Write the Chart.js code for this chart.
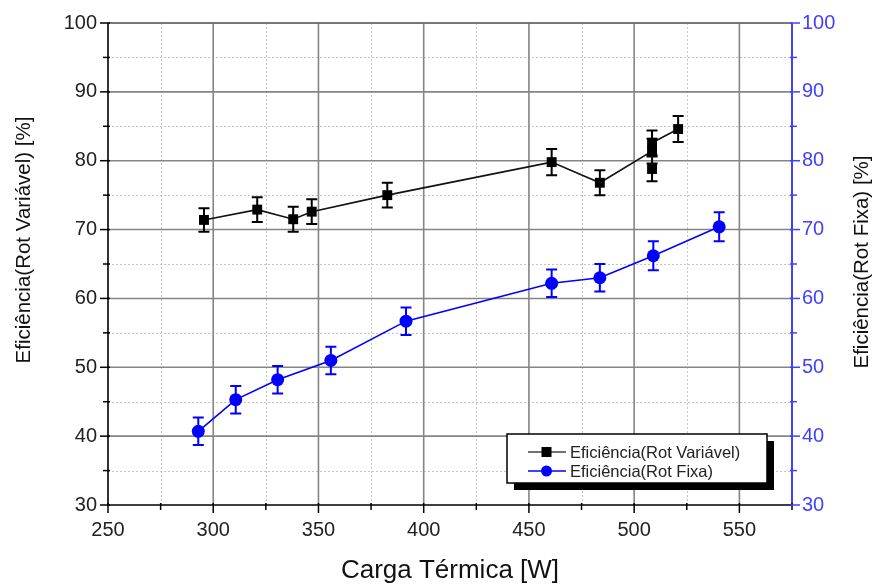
<!DOCTYPE html>
<html>
<head>
<meta charset="utf-8">
<script src="https://cdn.jsdelivr.net/npm/chart.js@4"></script>
<style>
  html, body { margin: 0; padding: 0; background: #fff; }
  #wrap { width: 879px; height: 585px; position: relative; }
</style>
</head>
<body>
<div id="wrap"><canvas id="chart"></canvas></div>
<script>
// ===== DATA =====
const labelVar  = "Eficiência(Rot Variável)"
const labelFixa = "Eficiência(Rot Fixa)"

const varX   = [295.6, 320.9, 338.0, 346.8, 382.7, 460.8, 483.7, 508.5, 508.5, 508.5, 520.9]
const varY   = [71.4, 72.9, 71.5, 72.6, 75.0, 79.8, 76.8, 81.4, 78.8, 82.6, 84.6]
const varErr = [1.7, 1.8, 1.8, 1.8, 1.8, 1.9, 1.8, 1.8, 1.8, 1.8, 1.9]

const fixaX   = [292.9, 310.7, 330.6, 355.9, 391.6, 460.8, 483.7, 509.1, 540.4]
const fixaY   = [40.7, 45.3, 48.2, 51.0, 56.7, 62.2, 63.0, 66.2, 70.4]
const fixaErr = [2.0, 2.0, 2.0, 2.0, 2.0, 2.0, 2.0, 2.1, 2.1]

const xTitle  = "Carga Térmica [W]"
const yTitle  = "Eficiência(Rot Variável) [%]"
const y2Title = "Eficiência(Rot Fixa) [%]"

const BLUE = "#0000ff"
const AXIS_BLUE = "#4040ff"
const FONT = "'Liberation Sans', Arial, sans-serif"

// ===== PLUGIN: grid, axes, error bars, legend, titles =====
const decor = {
  id: "decor",
  beforeDatasetsDraw(chart) {
    const { ctx, chartArea: a, scales: { x, y } } = chart
    ctx.save()
    // minor dotted grid
    ctx.strokeStyle = "#c4c4c4"
    ctx.lineWidth = 1
    ctx.setLineDash([2, 2])
    for (let v = 275; v < 575; v += 50) {
      const px = Math.round(x.getPixelForValue(v)) + 0.5
      ctx.beginPath(); ctx.moveTo(px, a.top); ctx.lineTo(px, a.bottom); ctx.stroke()
    }
    for (let v = 35; v < 100; v += 10) {
      const py = Math.round(y.getPixelForValue(v)) + 0.5
      ctx.beginPath(); ctx.moveTo(a.left, py); ctx.lineTo(a.right, py); ctx.stroke()
    }
    // major solid grid
    ctx.setLineDash([])
    ctx.strokeStyle = "#858585"
    ctx.lineWidth = 1.6
    for (let v = 300; v <= 550; v += 50) {
      const px = x.getPixelForValue(v)
      ctx.beginPath(); ctx.moveTo(px, a.top); ctx.lineTo(px, a.bottom); ctx.stroke()
    }
    for (let v = 40; v <= 100; v += 10) {
      const py = y.getPixelForValue(v)
      ctx.beginPath(); ctx.moveTo(a.left, py); ctx.lineTo(a.right, py); ctx.stroke()
    }
    ctx.restore()

    // error bars
    const drawErr = (xs, ys, es, color) => {
      ctx.save()
      ctx.strokeStyle = color
      ctx.lineWidth = 2
      xs.forEach((xv, i) => {
        const px = x.getPixelForValue(xv)
        const top = y.getPixelForValue(ys[i] + es[i])
        const bot = y.getPixelForValue(ys[i] - es[i])
        ctx.beginPath()
        ctx.moveTo(px, top); ctx.lineTo(px, bot)
        ctx.moveTo(px - 5.5, top); ctx.lineTo(px + 5.5, top)
        ctx.moveTo(px - 5.5, bot); ctx.lineTo(px + 5.5, bot)
        ctx.stroke()
      })
      ctx.restore()
    }
    drawErr(varX, varY, varErr, "#000")
    drawErr(fixaX, fixaY, fixaErr, BLUE)
  },
  afterDraw(chart) {
    const { ctx, chartArea: a, scales: { x, y } } = chart
    ctx.save()
    // axis lines
    ctx.lineWidth = 1.6
    ctx.strokeStyle = "#000"
    ctx.beginPath(); ctx.moveTo(a.left, a.top); ctx.lineTo(a.left, a.bottom); ctx.lineTo(a.right, a.bottom); ctx.stroke()
    ctx.strokeStyle = "#6a6a6a"
    ctx.beginPath(); ctx.moveTo(a.left, a.top); ctx.lineTo(a.right, a.top); ctx.stroke()
    ctx.strokeStyle = AXIS_BLUE
    ctx.lineWidth = 2
    ctx.beginPath(); ctx.moveTo(a.right, a.top); ctx.lineTo(a.right, a.bottom + 1); ctx.stroke()

    // tick marks
    ctx.lineWidth = 1.5
    ctx.strokeStyle = "#000"
    for (let v = 250; v <= 575; v += 25) {
      const px = x.getPixelForValue(v)
      const len = v % 50 === 0 ? 8 : 5
      ctx.beginPath(); ctx.moveTo(px, a.bottom - 2); ctx.lineTo(px, a.bottom + len); ctx.stroke()
    }
    for (let v = 30; v <= 100; v += 5) {
      const py = y.getPixelForValue(v)
      const len = v % 10 === 0 ? 8 : 5
      ctx.strokeStyle = "#000"
      ctx.beginPath(); ctx.moveTo(a.left - len, py); ctx.lineTo(a.left + 2, py); ctx.stroke()
      ctx.strokeStyle = AXIS_BLUE
      ctx.beginPath(); ctx.moveTo(a.right - 2, py); ctx.lineTo(a.right + len, py); ctx.stroke()
    }

    // legend
    const lx = 507, ly = 434, lw = 260, lh = 49
    ctx.fillStyle = "#000"
    ctx.fillRect(lx + 7, ly + 7, lw, lh)
    ctx.fillStyle = "#fff"
    ctx.fillRect(lx, ly, lw, lh)
    ctx.strokeStyle = "#000"
    ctx.lineWidth = 1.5
    ctx.strokeRect(lx, ly, lw, lh)
    const rows = [
      { label: labelVar, color: "#000", line: "#444", y: ly + 18, shape: "sq" },
      { label: labelFixa, color: BLUE, line: BLUE, y: ly + 37, shape: "ci" }
    ]
    ctx.font = "16.5px " + FONT
    ctx.textBaseline = "middle"
    rows.forEach(r => {
      ctx.strokeStyle = r.line
      ctx.lineWidth = 1.5
      ctx.beginPath(); ctx.moveTo(lx + 21, r.y); ctx.lineTo(lx + 59, r.y); ctx.stroke()
      ctx.fillStyle = r.color
      if (r.shape === "sq") ctx.fillRect(lx + 34.5, r.y - 5, 10, 10)
      else { ctx.beginPath(); ctx.arc(lx + 39.5, r.y, 5.5, 0, Math.PI * 2); ctx.fill() }
      ctx.fillStyle = "#222"
      ctx.fillText(r.label, lx + 63, r.y + 1)
    })

    // axis titles
    ctx.fillStyle = "#111"
    ctx.font = "26px " + FONT
    ctx.textAlign = "center"
    ctx.textBaseline = "alphabetic"
    ctx.fillText(xTitle, 450, 578)
    ctx.textBaseline = "middle"
    ctx.font = "20.5px " + FONT
    ctx.save(); ctx.translate(24, 240); ctx.rotate(-Math.PI / 2); ctx.fillText(yTitle, 0, 0); ctx.restore()
    ctx.save(); ctx.translate(862, 262); ctx.rotate(-Math.PI / 2); ctx.fillText(y2Title, 0, 0); ctx.restore()
    ctx.restore()
  }
}

// ===== CHART =====
const tickFont = { family: FONT, size: 20 }

new Chart(document.getElementById("chart"), {
  type: "scatter",
  data: {
    datasets: [
      {
        label: labelVar,
        data: varX.map((v, i) => ({ x: v, y: varY[i] })),
        showLine: true,
        borderColor: "#111",
        borderWidth: 1.6,
        backgroundColor: "#000",
        pointStyle: "rect",
        pointRadius: 7,
        pointBorderWidth: 0,
        yAxisID: "y"
      },
      {
        label: labelFixa,
        data: fixaX.map((v, i) => ({ x: v, y: fixaY[i] })),
        showLine: true,
        borderColor: BLUE,
        borderWidth: 1.6,
        backgroundColor: BLUE,
        pointStyle: "circle",
        pointRadius: 6.5,
        pointBorderWidth: 0,
        yAxisID: "y2"
      }
    ]
  },
  options: {
    responsive: true,
    maintainAspectRatio: false,
    animation: false,
    layout: { padding: { top: 20, left: 0, right: 0, bottom: 0 } },
    plugins: { legend: { display: false }, tooltip: { enabled: false } },
    scales: {
      x: {
        type: "linear", min: 250, max: 575,
        grid: { display: false, drawTicks: false },
        border: { display: false },
        ticks: {
          stepSize: 50, font: tickFont, color: "#222", padding: 13, maxRotation: 0,
          callback: v => (v % 50 === 0 ? v : "")
        },
        afterFit: s => { s.height = 80 }
      },
      y: {
        position: "left", min: 30, max: 100,
        grid: { display: false, drawTicks: false },
        border: { display: false },
        ticks: { stepSize: 10, font: tickFont, color: "#222", padding: 11 },
        afterFit: s => { s.width = 108 }
      },
      y2: {
        position: "right", min: 30, max: 100,
        grid: { display: false, drawTicks: false },
        border: { display: false },
        ticks: { stepSize: 10, font: tickFont, color: AXIS_BLUE, padding: 10 },
        afterFit: s => { s.width = 87 }
      }
    }
  },
  plugins: [decor]
})
</script>
</body>
</html>
